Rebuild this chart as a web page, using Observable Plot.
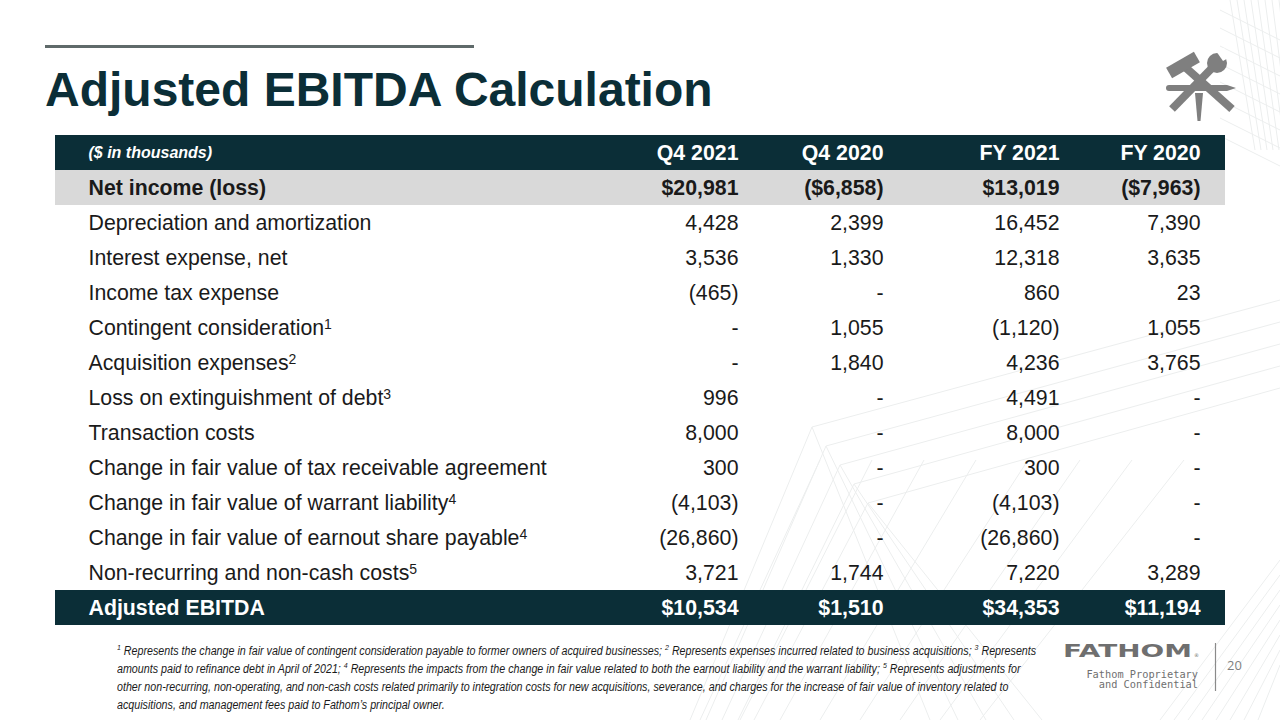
<!DOCTYPE html>
<html>
<head>
<meta charset="utf-8">
<script src="https://cdn.jsdelivr.net/npm/d3@7"></script>
<script src="https://cdn.jsdelivr.net/npm/@observablehq/plot@0.6"></script>
<style>
  html, body { margin: 0; padding: 0; background: #ffffff; }
  #page { position: relative; width: 1280px; height: 720px; overflow: hidden; background: #ffffff;
          font-family: "Liberation Sans", Arial, Helvetica, sans-serif; }
  #bg { position: absolute; left: 0; top: 0; }
  #deco { position: absolute; left: 0; top: 0; }
  #table { position: absolute; left: 0; top: 133px; }
  #foot { position: absolute; left: 117px; top: 642px; font-size: 12.3px; line-height: 18px;
          font-family: "Liberation Sans", Arial, sans-serif; transform: scaleX(0.87); transform-origin: 0 0;
          font-style: italic; color: #1a1a1a; white-space: nowrap; }
  #foot sup { font-size: 8px; vertical-align: 5px; line-height: 0; }
</style>
</head>
<body>
<div id="page">
  <svg id="bg" width="1280" height="720"></svg>
  <svg id="deco" width="1280" height="720">
    <line x1="45" x2="474" y1="46.5" y2="46.5" stroke="#5f6a6a" stroke-width="3"/>
    <text x="45" y="106" font-family="Liberation Sans, Arial, sans-serif" font-weight="bold" font-size="48" fill="#0b2e37">Adjusted EBITDA Calculation</text>
    <g transform="translate(1165,52)" fill="#7f7f7f">
      <line x1="20" y1="15" x2="67" y2="57" stroke="#7f7f7f" stroke-width="8"/>
      <polygon points="28.9,-0.2 34.9,10.2 7.1,26.2 1.1,15.8"/>
      <line x1="48" y1="15" x2="7" y2="57" stroke="#7f7f7f" stroke-width="8"/>
      <circle cx="52" cy="11" r="10"/>
      <polygon points="51,-1 59,-4 65,5 58,9" fill="#ffffff"/>
      <rect x="4" y="33" width="58" height="6"/>
      <polygon points="62,33 71,36 62,39"/>
      <circle cx="4" cy="36" r="3"/>
      <polygon points="30,41 38,41 35.5,69 32.5,69"/>
    </g>
    <text x="1063" y="657" font-family="DejaVu Sans, sans-serif" font-weight="bold" font-size="18" fill="#6f6f6f" textLength="129" lengthAdjust="spacingAndGlyphs">FATHOM</text>
    <text x="1194" y="657" font-family="DejaVu Sans, sans-serif" font-size="5" fill="#6f6f6f">®</text>
    <text x="1198" y="677.5" text-anchor="end" font-family="DejaVu Sans Mono, Liberation Mono, monospace" font-size="10.3" fill="#6f6f6f">Fathom Proprietary</text>
    <text x="1198" y="688" text-anchor="end" font-family="DejaVu Sans Mono, Liberation Mono, monospace" font-size="10.3" fill="#6f6f6f">and Confidential</text>
    <line x1="1215.5" x2="1215.5" y1="643" y2="691" stroke="#8a8a8a" stroke-width="1.2"/>
    <text x="1227" y="670" font-family="Open Sans, Liberation Sans, sans-serif" font-size="13" fill="#7f7f7f">20</text>
  </svg>
  <div id="table"></div>
  <div id="foot">
    <sup>1</sup> Represents the change in fair value of contingent consideration payable to former owners of acquired businesses; <sup>2</sup> Represents expenses incurred related to business acquisitions; <sup>3</sup> Represents<br>
    amounts paid to refinance debt in April of 2021; <sup>4</sup> Represents the impacts from the change in fair value related to both the earnout liability and the warrant liability; <sup>5</sup> Represents adjustments for<br>
    other non-recurring, non-operating, and non-cash costs related primarily to integration costs for new acquisitions, severance, and charges for the increase of fair value of inventory related to<br>
    acquisitions, and management fees paid to Fathom’s principal owner.
  </div>
</div>
<script>
// ---------------- DATA ----------------
const columns = ["Q4 2021", "Q4 2020", "FY 2021", "FY 2020"];
const unitNote = "($ in thousands)";
const rowLabels = [
  "Net income (loss)",
  "Depreciation and amortization",
  "Interest expense, net",
  "Income tax expense",
  "Contingent consideration",
  "Acquisition expenses",
  "Loss on extinguishment of debt",
  "Transaction costs",
  "Change in fair value of tax receivable agreement",
  "Change in fair value of warrant liability",
  "Change in fair value of earnout share payable",
  "Non-recurring and non-cash costs",
  "Adjusted EBITDA"
];
const footnoteRefs = ["", "", "", "", "1", "2", "3", "", "", "4", "4", "5", ""];
// null = "-"
const q4_2021 = [20981, 4428, 3536, -465, null, null, 996, 8000, 300, -4103, -26860, 3721, 10534];
const q4_2020 = [-6858, 2399, 1330, null, 1055, 1840, null, null, null, null, null, 1744, 1510];
const fy_2021 = [13019, 16452, 12318, 860, -1120, 4236, 4491, 8000, 300, -4103, -26860, 7220, 34353];
const fy_2020 = [-7963, 7390, 3635, 23, 1055, 3765, null, null, null, null, null, 3289, 11194];
const dollarRows = ["Net income (loss)", "Adjusted EBITDA"];

// ---------------- BUILD ----------------
const seriesByColumn = [q4_2021, q4_2020, fy_2021, fy_2020];
const DARK = "#0b2e37";
const INK = "#1a1a1a";
const LIGHT = "#d9d9d9";
const FS = 21.3;
const totalRow = rowLabels[rowLabels.length - 1];
const netRow = rowLabels[0];

const fmtNum = d3.format(",");
function fmt(v, dollar) {
  if (v == null) return "-";
  const s = (dollar ? "$" : "") + fmtNum(Math.abs(v));
  return v < 0 ? `(${s})` : s;
}

const cells = [];
rowLabels.forEach((label, i) => {
  columns.forEach((col, j) => {
    cells.push({label, col, value: seriesByColumn[j][i], text: fmt(seriesByColumn[j][i], dollarRows.includes(label))});
  });
});

const bands = [
  {row: unitNote, fill: DARK},
  {row: netRow, fill: LIGHT},
  {row: totalRow, fill: DARK}
];

// per-column horizontal nudges (layout only)
const colNudge = [0, -9, 13, 0];

const isBold = l => l === netRow || l === totalRow;
const inkOf = l => (l === totalRow ? "#ffffff" : INK);

const marks = [
  Plot.cell(bands, {y: "row", fill: "fill"}),
  Plot.text([unitNote], {y: d => d, text: d => d, frameAnchor: "left", dx: 33,
    fill: "#ffffff", fontStyle: "italic", fontWeight: "bold", fontSize: 16}),
  Plot.text(rowLabels.filter(l => !isBold(l)), {y: d => d, text: d => d, frameAnchor: "left", dx: 33,
    fill: INK, fontSize: FS, className: "row-label"}),
  Plot.text(rowLabels.filter(isBold), {y: d => d, text: d => d, frameAnchor: "left", dx: 33,
    fill: inkOf, fontWeight: "bold", fontSize: FS})
];
columns.forEach((col, j) => {
  marks.push(Plot.text([col], {x: d => d, y: () => unitNote, text: d => d, textAnchor: "end",
    dx: colNudge[j], fill: "#ffffff", fontWeight: "bold", fontSize: FS}));
  marks.push(Plot.text(cells.filter(c => c.col === col && !isBold(c.label)), {x: "col", y: "label", text: "text",
    textAnchor: "end", dx: colNudge[j], fill: INK, fontSize: FS}));
  marks.push(Plot.text(cells.filter(c => c.col === col && isBold(c.label)), {x: "col", y: "label", text: "text",
    textAnchor: "end", dx: colNudge[j], fill: d => inkOf(d.label), fontWeight: "bold", fontSize: FS}));
});

const chart = Plot.plot({
  width: 1280,
  height: 493,
  marginLeft: 55,
  marginRight: 55,
  marginTop: 0,
  marginBottom: 0,
  x: {type: "point", domain: columns, range: [737, 1200], padding: 0, axis: null},
  y: {type: "band", domain: [unitNote, ...rowLabels], padding: 0, axis: null},
  color: {type: "identity"},
  style: {fontFamily: "Liberation Sans, Arial, Helvetica, sans-serif", background: "transparent", overflow: "visible"},
  marks
});
document.getElementById("table").appendChild(chart);

// superscript footnote markers on row labels
d3.select(chart).selectAll("g.row-label text").each(function () {
  const label = this.textContent;
  const i = rowLabels.indexOf(label);
  if (i >= 0 && footnoteRefs[i]) {
    d3.select(this).append("tspan").attr("dy", "-0.42em").attr("font-size", 14).text(footnoteRefs[i]);
  }
});

// faint decorative background linework
const bg = d3.select("#bg").append("g").attr("stroke", "#eceeee").attr("stroke-width", 1).attr("fill", "none");
const apexes = [[812, 427], [826, 446], [840, 465], [854, 484], [868, 503]];
apexes.forEach(([ax, ay], k) => {
  bg.append("line").attr("x1", ax).attr("y1", ay).attr("x2", 690 + k * 16).attr("y2", 720);
  bg.append("line").attr("x1", ax).attr("y1", ay).attr("x2", 1280).attr("y2", 300 + k * 22);
  bg.append("line").attr("x1", ax).attr("y1", ay).attr("x2", 930 + k * 28).attr("y2", 720);
});
for (let k = 0; k < 8; k++) {
  bg.append("line").attr("x1", 700 + k * 40).attr("y1", 720).attr("x2", 820 + k * 52).attr("y2", 460);
  bg.append("line").attr("x1", 1230 + k * 7).attr("y1", 0).attr("x2", 1255 + k * 6).attr("y2", 150);
  bg.append("line").attr("x1", 1220).attr("y1", 10 + k * 18).attr("x2", 1280).attr("y2", 40 + k * 18);
  bg.append("line").attr("x1", 1160 + k * 14).attr("y1", 720).attr("x2", 1280).attr("y2", 560 + k * 15);
}
</script>
</body>
</html>
